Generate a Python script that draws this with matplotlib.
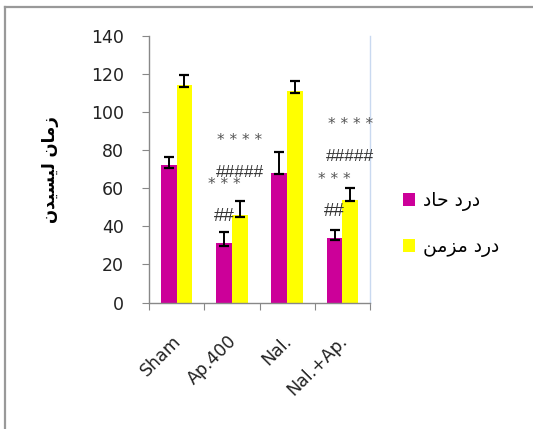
import matplotlib
matplotlib.use("Agg")
import matplotlib.pyplot as plt
import matplotlib.transforms as mtransforms
from matplotlib.patches import Patch
from matplotlib.lines import Line2D
import numpy as np

# ---- data ----
groups = ["Sham", "Ap.400", "Nal.", "Nal.+Ap."]
acute_mean = [72, 31, 68, 34]
acute_err_lo = [1.2, 1.4, 0.6, 1.4]
acute_err_hi = [4.4, 6.1, 11, 4.2]
chronic_mean = [114, 46, 111, 54]
chronic_err_lo = [1.0, 1.2, 1.0, 0.9]
chronic_err_hi = [5.3, 7.5, 5.3, 6.3]
series_names = ["درد حاد", "درد مزمن"]
y_title = "زمان لیسیدن"
y_ticks = [0, 20, 40, 60, 80, 100, 120, 140]

# significance marks: (group index, series index, text, y position)
marks = [
    (1, 1, "* * * *", 86.8),
    (1, 1, "#####", 68.4),
    (1, 0, "* * *", 63.4),
    (1, 0, "##", 45.0),
    (3, 1, "* * * *", 95.0),
    (3, 1, "#####", 76.6),
    (3, 0, "* * *", 66.1),
    (3, 0, "##", 47.7),
]

# ---- minimal Arabic/Persian shaping (presentation forms, visual order) ----
FORMS = {  # isolated, final, initial, medial
    "ا": ("\uFE8D", "\uFE8E", None, None),
    "د": ("\uFEA9", "\uFEAA", None, None),
    "ر": ("\uFEAD", "\uFEAE", None, None),
    "ز": ("\uFEAF", "\uFEB0", None, None),
    "ح": ("\uFEA1", "\uFEA2", "\uFEA3", "\uFEA4"),
    "م": ("\uFEE1", "\uFEE2", "\uFEE3", "\uFEE4"),
    "ن": ("\uFEE5", "\uFEE6", "\uFEE7", "\uFEE8"),
    "ل": ("\uFEDD", "\uFEDE", "\uFEDF", "\uFEE0"),
    "س": ("\uFEB1", "\uFEB2", "\uFEB3", "\uFEB4"),
    "ی": ("\uFEEF", "\uFEF0", "\uFEF3", "\uFEF4"),
}


def shape(text):
    out = []
    for i, ch in enumerate(text):
        if ch not in FORMS:
            out.append(ch)
            continue
        prev = text[i - 1] if i > 0 else ""
        nxt = text[i + 1] if i + 1 < len(text) else ""
        joins_prev = prev in FORMS and FORMS[prev][2] is not None
        joins_next = nxt in FORMS and FORMS[ch][2] is not None
        iso, fin, ini, med = FORMS[ch]
        if joins_prev and joins_next:
            out.append(med)
        elif joins_prev:
            out.append(fin)
        elif joins_next:
            out.append(ini)
        else:
            out.append(iso)
    return "".join(reversed(out))


MAGENTA = "#CC0099"
YELLOW = "#FFFF00"

fig = plt.figure(figsize=(5.33, 4.29), dpi=100)
ax = fig.add_axes([149 / 533, 1 - 302.5 / 429, (370 - 149) / 533, (302.5 - 36) / 429])

x = np.arange(len(groups))
w = 0.285
ax.bar(x - w / 2, acute_mean, w, color=MAGENTA, zorder=2)
ax.bar(x + w / 2, chronic_mean, w, color=YELLOW, zorder=2)
ekw = dict(fmt="none", ecolor="black", elinewidth=1.4, capsize=3.3, capthick=1.6, zorder=3)
ax.errorbar(x - w / 2, acute_mean, yerr=[acute_err_lo, acute_err_hi], **ekw)
ax.errorbar(x + w / 2, chronic_mean, yerr=[chronic_err_lo, chronic_err_hi], **ekw)

for gi, si, txt, yy in marks:
    xx = gi + (w / 2 if si == 1 else -w / 2)
    if txt.startswith("*"):
        ax.text(xx, yy - 1.5, txt, ha="center", va="center", fontsize=11,
                family="DejaVu Sans", color="#555555", zorder=4)
    else:
        ax.text(xx, yy, txt, ha="center", va="center",
                fontsize=12.5 if len(txt) > 2 else 13.5,
                family="Liberation Sans", color="#333333", zorder=4)

ax.set_xlim(-0.5, len(groups) - 0.5)
ax.set_ylim(0, 140)
ax.set_yticks(y_ticks)
ax.set_yticklabels([str(v) for v in y_ticks], fontsize=12.5, color="#222222")

# category boundaries carry the tick marks, names sit at the centres
ax.set_xticks(np.arange(-0.5, len(groups)), minor=False)
ax.set_xticklabels([])
ax.set_xticks(x, minor=True)
ax.set_xticklabels(groups, minor=True, rotation=45, ha="right",
                   rotation_mode="anchor", va="top", fontsize=12.5, color="#222222")
ax.tick_params(axis="x", which="major", direction="out", length=5, color="#888888")
ax.tick_params(axis="x", which="minor", length=0, pad=21)
ax.tick_params(axis="y", direction="out", length=5, color="#888888", pad=13)
offset = mtransforms.ScaledTranslation(-3 / 72, 0, fig.dpi_scale_trans)
for lbl in ax.get_xticklabels(minor=True):
    lbl.set_transform(lbl.get_transform() + offset)

for side in ("left", "bottom"):
    ax.spines[side].set_color("#888888")
    ax.spines[side].set_linewidth(1.0)
ax.spines["top"].set_visible(False)
ax.spines["right"].set_color("#C9D9F0")
ax.spines["right"].set_linewidth(1.0)

ax.set_ylabel(shape(y_title), fontsize=12, fontweight="bold", labelpad=23)

handles = [Patch(facecolor=MAGENTA, edgecolor="none"), Patch(facecolor=YELLOW, edgecolor="none")]
fig.legend(handles, [shape(s) for s in series_names], loc="upper left",
           bbox_to_anchor=(403 / 533, 1 - 191 / 429), frameon=False,
           fontsize=13.5, handlelength=0.64, handleheight=0.64, handletextpad=0.45,
           labelspacing=1.4, borderpad=0, borderaxespad=0)

# thin grey frame along the top and left edges of the canvas
fig.add_artist(Line2D([5 / 533, 1], [1 - 7 / 429] * 2, transform=fig.transFigure,
                      color="#999999", lw=1.6))
fig.add_artist(Line2D([5 / 533] * 2, [0, 1 - 7 / 429], transform=fig.transFigure,
                      color="#999999", lw=1.6))

fig.savefig("out.png", dpi=100)
